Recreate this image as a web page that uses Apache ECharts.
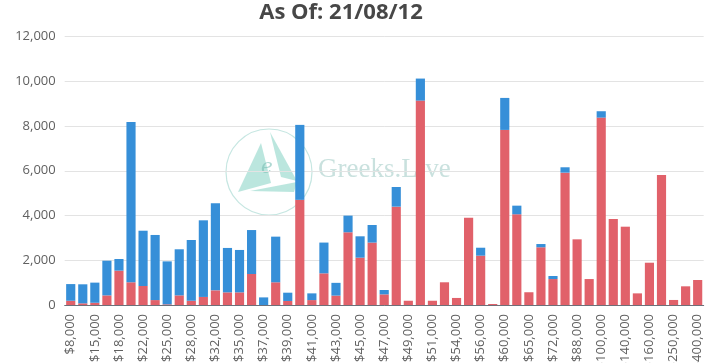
<!DOCTYPE html>
<html>
<head>
<meta charset="utf-8">
<script src="https://cdn.jsdelivr.net/npm/echarts@6/dist/echarts.min.js"></script>
<style>
html,body{margin:0;padding:0;background:#fff;}
#chart{width:712px;height:363px;}
</style>
</head>
<body>
<div id="chart"></div>
<script>
const titleLine1 = 'BTC Options Open Interest Summary';
const titleLine2 = 'As Of: 21/08/12';

const strikes = ['$8,000','$10,000','$15,000','$16,000','$18,000','$20,000','$22,000','$24,000','$25,000','$26,000',
  '$28,000','$30,000','$32,000','$34,000','$35,000','$36,000','$37,000','$38,000','$39,000','$40,000',
  '$41,000','$42,000','$43,000','$44,000','$45,000','$46,000','$47,000','$48,000','$49,000','$50,000',
  '$51,000','$52,000','$54,000','$55,000','$56,000','$58,000','$60,000','$64,000','$65,000','$70,000',
  '$72,000','$80,000','$88,000','$90,000','$100,000','$120,000','$140,000','$150,000','$160,000','$200,000',
  '$250,000','$300,000','$400,000'];

const callOI = [190,75,100,430,1535,1015,850,220,30,430,
  190,360,655,565,565,1385,0,1015,180,4700,
  220,1415,420,3250,2115,2790,475,4395,190,9135,
  190,1015,315,3905,2205,45,7825,4055,570,2580,
  1160,5915,2935,1160,8375,3845,3500,520,1890,5810,
  225,835,1118];

const putOI = [745,850,900,1550,520,7165,2470,2910,1920,2060,
  2715,3425,3890,1985,1895,1965,340,2040,370,3350,
  300,1375,570,745,955,785,195,880,0,985,
  0,0,0,0,355,0,1430,385,0,145,
  135,240,0,0,285,0,0,0,0,0,
  0,0,0];

const yMax = 12000;
const yInterval = 2000;

const chart = echarts.init(document.getElementById('chart'));
const wmColor = 'rgba(120,205,190,0.5)';
chart.setOption({
  animation: false,
  backgroundColor: '#fff',
  title: {
    text: titleLine1 + '\n' + titleLine2,
    left: 336,
    textAlign: 'center',
    top: -37,
    textStyle: {
      fontFamily: 'Open Sans',
      fontSize: 22,
      fontWeight: 'bold',
      color: '#474747',
      lineHeight: 30
    }
  },
  graphic: [
    { type: 'circle', shape: { cx: 269, cy: 172, r: 43 }, style: { fill: 'none', stroke: 'rgba(150,210,200,0.55)', lineWidth: 1.2 }, z: 0, silent: true },
    { type: 'polygon', shape: { points: [[238,192],[261,143],[271,183]] }, style: { fill: wmColor }, z: 0, silent: true },
    { type: 'polygon', shape: { points: [[270,132],[297,181],[281,177]] }, style: { fill: wmColor }, z: 0, silent: true },
    { type: 'polygon', shape: { points: [[250,191],[297,182],[294,192]] }, style: { fill: wmColor }, z: 0, silent: true },
    { type: 'text', x: 261, y: 158, style: { text: 'e', font: 'italic 20px "DejaVu Serif"', fill: 'rgba(120,190,180,0.6)' }, z: 0, silent: true },
    { type: 'text', x: 318, y: 156, style: { text: 'Greeks.Live', font: '27px "Liberation Serif"', fill: 'rgba(165,205,200,0.6)' }, z: 0, silent: true }
  ],
  grid: { left: 64.7, right: 8.3, top: 36.5, bottom: 58, outerBoundsMode: 'none', containLabel: false },
  xAxis: {
    type: 'category',
    data: strikes,
    axisLine: { lineStyle: { color: '#6e7079' } },
    axisTick: { lineStyle: { color: '#6e7079' } },
    axisLabel: {
      rotate: 90,
      interval: 1,
      fontFamily: 'Open Sans',
      fontSize: 13,
      color: '#606060',
      margin: 9
    }
  },
  yAxis: {
    type: 'value',
    min: 0,
    max: yMax,
    interval: yInterval,
    axisLine: { show: false },
    axisTick: { show: false },
    splitLine: { lineStyle: { color: '#e3e3e3' } },
    axisLabel: {
      fontFamily: 'Open Sans',
      fontSize: 13,
      color: '#606060',
      margin: 9,
      formatter: v => v.toLocaleString('en-US')
    }
  },
  series: [
    { name: 'Calls', type: 'bar', stack: 'oi', data: callOI, barCategoryGap: '24%', itemStyle: { color: '#e1616a' } },
    { name: 'Puts', type: 'bar', stack: 'oi', data: putOI, barCategoryGap: '24%', itemStyle: { color: '#368fd8' } }
  ]
});
</script>
</body>
</html>
